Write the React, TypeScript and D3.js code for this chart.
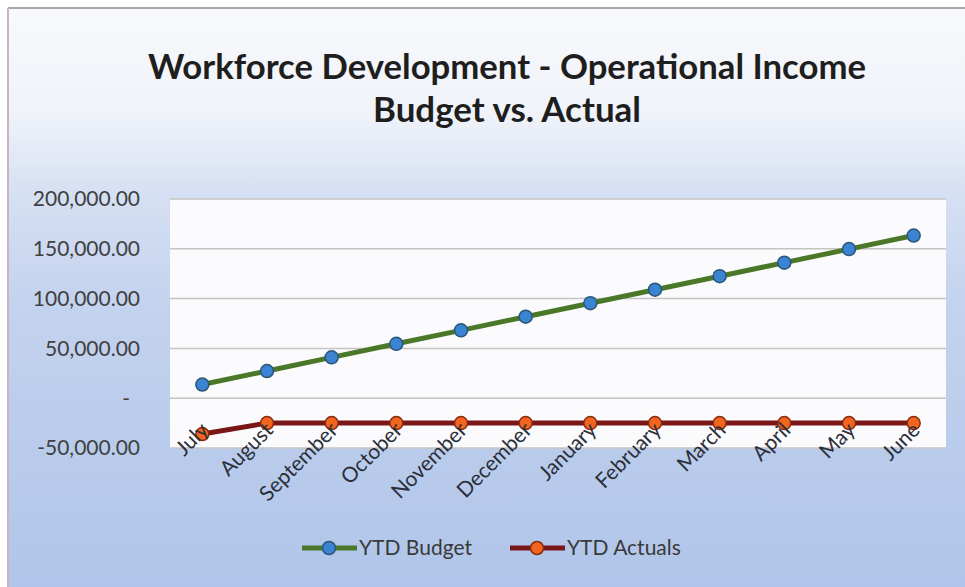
import React from 'react'
import * as d3 from 'd3'

const width = 965
const height = 587
const margin = { top: 199, right: 19, bottom: 139, left: 170 }

const months = [
  'July', 'August', 'September', 'October', 'November', 'December',
  'January', 'February', 'March', 'April', 'May', 'June'
]
const ytdBudget = [
  13700, 27300, 41000, 54600, 68100, 81800, 95400, 108900, 122500, 136100, 149700, 163300
]
const ytdActuals = [
  -36000, -25000, -25000, -25000, -25000, -25000, -25000, -25000, -25000, -25000, -25000, -25000
]
const yTicks = [-50000, 0, 50000, 100000, 150000, 200000]

const budgetLine = '#4a7828'
const budgetDot = '#3b84d4'
const actualLine = '#7a1616'
const actualDot = '#f2651e'
const font = 'Lato, "Open Sans", sans-serif'

// Excel style: zero shows as a dash, negatives with a plain hyphen
const fmt = (v: number) =>
  v === 0 ? '-' : d3.format(',.2f')(v).replace('\u2212', '-')

const App = () => {
  const x = d3
    .scaleBand()
    .domain(months)
    .range([margin.left, width - margin.right])
  const y = d3
    .scaleLinear()
    .domain([-50000, 200000])
    .range([height - margin.bottom, margin.top])

  const cx = (m: string) => (x(m) as number) + x.bandwidth() / 2

  const line = d3
    .line<number>()
    .x((_, i) => cx(months[i]))
    .y(d => y(d))

  const series = [
    { name: 'YTD Budget', values: ytdBudget, stroke: budgetLine, fill: budgetDot, dotStroke: '#2c5578' },
    { name: 'YTD Actuals', values: ytdActuals, stroke: actualLine, fill: actualDot, dotStroke: '#8a2a10' }
  ]

  // legend item left edges
  const legendX = [302, 510]

  return (
    <svg
      width={width}
      height={height}
      style={{ position: 'absolute', left: 0, top: 0 }}
    >
      <defs>
        <linearGradient id="bg" x1="0" y1="0" x2="0" y2="1">
          <stop offset="0" stopColor="#f8f9fc" />
          <stop offset="0.18" stopColor="#f0f3f9" />
          <stop offset="0.32" stopColor="#d6e0f3" />
          <stop offset="0.5" stopColor="#c4d3ee" />
          <stop offset="1" stopColor="#b0c5e9" />
        </linearGradient>
      </defs>
      <rect x={0} y={0} width={width} height={height} fill="#ffffff" />
      <rect x={8} y={8} width={width - 8} height={height - 8} fill="url(#bg)" />
      <line x1={8} x2={width} y1={8} y2={8} stroke="#a8a8a8" strokeWidth={2} />
      <line x1={8} x2={8} y1={8} y2={height} stroke="#c8b4c4" strokeWidth={2} />

      <text
        x={507}
        y={79}
        textAnchor="middle"
        fontFamily={font}
        fontWeight="bold"
        fontSize={34}
        fill="#1e1e1e"
        textLength={718}
        lengthAdjust="spacingAndGlyphs"
      >
        Workforce Development - Operational Income
      </text>
      <text
        x={507}
        y={122}
        textAnchor="middle"
        fontFamily={font}
        fontWeight="bold"
        fontSize={34}
        fill="#1e1e1e"
        textLength={268}
        lengthAdjust="spacingAndGlyphs"
      >
        Budget vs. Actual
      </text>

      <rect
        x={margin.left}
        y={margin.top}
        width={width - margin.left - margin.right}
        height={height - margin.top - margin.bottom}
        fill="#fbfbfd"
      />
      {yTicks.map(t => (
        <g key={t}>
          <line
            x1={margin.left}
            x2={width - margin.right}
            y1={y(t)}
            y2={y(t)}
            stroke="#c4c4c4"
            strokeWidth={1.5}
          />
          <text
            x={t === 0 ? 130 : 140}
            y={y(t)}
            dy="0.35em"
            textAnchor="end"
            fontFamily={font}
            fontSize={21}
            fill="#404040"
          >
            {fmt(t)}
          </text>
        </g>
      ))}

      {series.map(s => (
        <g key={s.name}>
          <path d={line(s.values) as string} fill="none" stroke={s.stroke} strokeWidth={5} strokeLinejoin="round" />
          {s.values.map((v, i) => (
            <circle
              key={i}
              cx={cx(months[i])}
              cy={y(v)}
              r={6.5}
              fill={s.fill}
              stroke={s.dotStroke}
              strokeWidth={1.5}
            />
          ))}
        </g>
      ))}

      {months.map(m => (
        <text
          key={m}
          transform={`translate(${cx(m) - 3},${y(-50000) - 27}) rotate(-45)`}
          textAnchor="end"
          dy="0.7em"
          fontFamily={font}
          fontSize={21}
          fill="#2b2f3a"
        >
          {m}
        </text>
      ))}

      {series.map((s, i) => {
        const lx = legendX[i]
        return (
          <g key={s.name} transform={`translate(${lx},548)`}>
            <line x1={0} x2={55} y1={0} y2={0} stroke={s.stroke} strokeWidth={5} />
            <circle cx={27} cy={0} r={6.5} fill={s.fill} stroke={s.dotStroke} strokeWidth={1.5} />
            <text x={57} y={0} dy="0.35em" fontFamily={font} fontSize={21} fill="#3a3a3a">
              {s.name}
            </text>
          </g>
        )
      })}
    </svg>
  )
}

export default App
